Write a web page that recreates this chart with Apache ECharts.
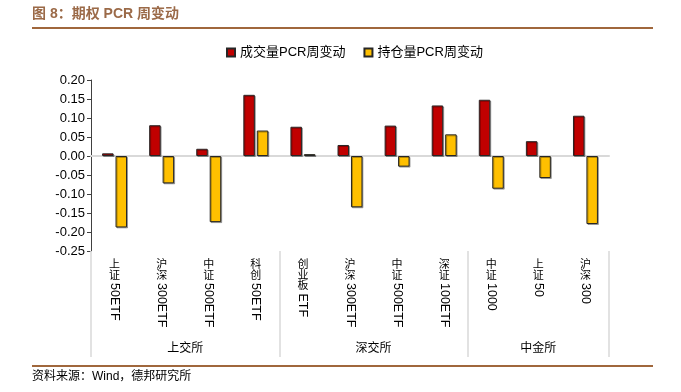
<!DOCTYPE html>
<html>
<head>
<meta charset="utf-8">
<script src="https://cdn.jsdelivr.net/npm/echarts@6/dist/echarts.min.js"></script>
<style>
  html, body { margin: 0; padding: 0; background: #fff; }
  #chart-container { width: 681px; height: 392px; }
</style>
</head>
<body>
<div id="chart-container"></div>
<script>
var categories = ['上证50ETF', '沪深300ETF', '中证500ETF', '科创50ETF', '创业板ETF', '沪深300ETF', '中证500ETF', '深证100ETF', '中证1000', '上证50', '沪深300'];
var volumePcrChange = [0.007, 0.081, 0.019, 0.161, 0.077, 0.029, 0.080, 0.133, 0.148, 0.039, 0.106];
var oiPcrChange = [-0.188, -0.072, -0.174, 0.067, 0.005, -0.135, -0.028, 0.057, -0.086, -0.058, -0.179];
var exchanges = ['上交所', '深交所', '中金所'];
var exchangeBounds = [0, 4, 8, 11];
var exchangeCenters = [2, 6, 9.5];

var latinFont = '"Liberation Sans", Arial, "Noto Sans CJK SC", sans-serif';
var cjkFont = '"Noto Sans CJK SC", "Liberation Sans", sans-serif';

// split a name into its chinese head and latin tail
function splitName(s) {
  var m = s.match(/^([^\x00-\x7f]*)(.*)$/);
  return [m[1], m[2]];
}

var dom = document.getElementById('chart-container');
var myChart = echarts.init(dom, null, { renderer: 'canvas' });

var barBorder = {
  borderColor: '#262626',
  borderWidth: 1,
  shadowColor: 'rgba(0,0,0,0.3)',
  shadowOffsetX: 1,
  shadowOffsetY: 1
};

var option = {
  animation: false,
  textStyle: { fontFamily: latinFont },
  grid: { left: 91, right: 72, top: 80, bottom: 141, containLabel: false, outerBoundsMode: 'none' },
  legend: {
    left: 221,
    top: 41,
    icon: 'rect',
    itemWidth: 8,
    itemHeight: 8,
    itemGap: 18,
    textStyle: { fontSize: 13, color: '#000', fontFamily: latinFont }
  },
  graphic: [
    {
      type: 'text', left: 32, top: 7,
      style: { text: '图 8：期权 PCR 周变动', font: 'bold 14px ' + latinFont, fill: '#9b6a48' }
    },
    {
      type: 'line', shape: { x1: 32, y1: 28, x2: 653, y2: 28 },
      style: { stroke: '#a0673c', lineWidth: 2 }
    },
    {
      type: 'line', shape: { x1: 32, y1: 366, x2: 653, y2: 366 },
      style: { stroke: '#a0673c', lineWidth: 2 }
    },
    {
      type: 'text', left: 32, top: 371,
      style: { text: '资料来源：Wind，德邦研究所', font: '12px ' + latinFont, fill: '#000' }
    }
  ],
  xAxis: [
    {
      // category axis used by the bars, its line is the zero line
      type: 'category',
      data: categories,
      axisLine: { onZero: true, lineStyle: { color: '#d9d9d9', width: 2 } },
      axisTick: { show: false },
      axisLabel: { show: false },
      z: 1
    },
    {
      // chinese part of the labels, upright
      type: 'category',
      data: categories,
      position: 'bottom',
      axisLine: { show: false, onZero: false },
      axisTick: { show: false },
      axisLabel: {
        interval: 0,
        margin: 8,
        fontSize: 11,
        lineHeight: 10.5,
        color: '#000',
        fontFamily: cjkFont,
        formatter: function (v) {
          return splitName(v)[0].split('').join('\n');
        }
      }
    },
    {
      // latin part of the labels, rotated
      type: 'category',
      data: categories,
      position: 'bottom',
      axisLine: { show: false, onZero: false },
      axisTick: { show: false },
      axisLabel: {
        interval: 0,
        rotate: -90,
        margin: 32,
        formatter: function (v) {
          var p = splitName(v);
          var extra = p[0].length - 2;
          return (extra > 0 ? '{p|}' : '') + '{t|' + p[1] + '}';
        },
        rich: {
          p: { width: 10.5 * 1, height: 10 },
          t: { fontSize: 12.5, color: '#000', fontFamily: latinFont }
        }
      }
    },
    {
      // exchange groups
      type: 'value',
      min: 0,
      max: 11,
      position: 'bottom',
      axisLine: { show: false, onZero: false },
      splitLine: { show: false },
      axisTick: {
        show: true,
        customValues: exchangeBounds,
        length: 106,
        lineStyle: { color: '#d9d9d9', width: 1.5 }
      },
      axisLabel: {
        customValues: exchangeCenters,
        margin: 90,
        fontSize: 12,
        color: '#000',
        fontFamily: cjkFont,
        formatter: function (v) {
          return exchanges[exchangeCenters.indexOf(v)];
        }
      }
    }
  ],
  yAxis: {
    type: 'value',
    min: -0.25,
    max: 0.2,
    interval: 0.05,
    axisLine: { show: true, onZero: false, lineStyle: { color: '#404040', width: 1 } },
    axisTick: { show: true, length: 4, lineStyle: { color: '#404040' } },
    splitLine: { show: false },
    axisLabel: {
      margin: 6,
      fontSize: 13,
      color: '#000',
      fontFamily: latinFont,
      formatter: function (v) {
        if (Math.abs(v) < 1e-9) return '0.00';
        return v.toFixed(2);
      }
    }
  },
  series: [
    {
      name: '成交量PCR周变动',
      type: 'bar',
      xAxisIndex: 0,
      data: volumePcrChange,
      barWidth: 11.5,
      barGap: '17%',
      itemStyle: Object.assign({ color: '#c00000' }, barBorder),
      z: 3
    },
    {
      name: '持仓量PCR周变动',
      type: 'bar',
      xAxisIndex: 0,
      data: oiPcrChange,
      barWidth: 11.5,
      itemStyle: Object.assign({ color: '#ffc000' }, barBorder),
      z: 3
    }
  ]
};

if (option && typeof option === 'object') {
  myChart.setOption(option);
}

window.addEventListener('resize', myChart.resize);
</script>
</body>
</html>
